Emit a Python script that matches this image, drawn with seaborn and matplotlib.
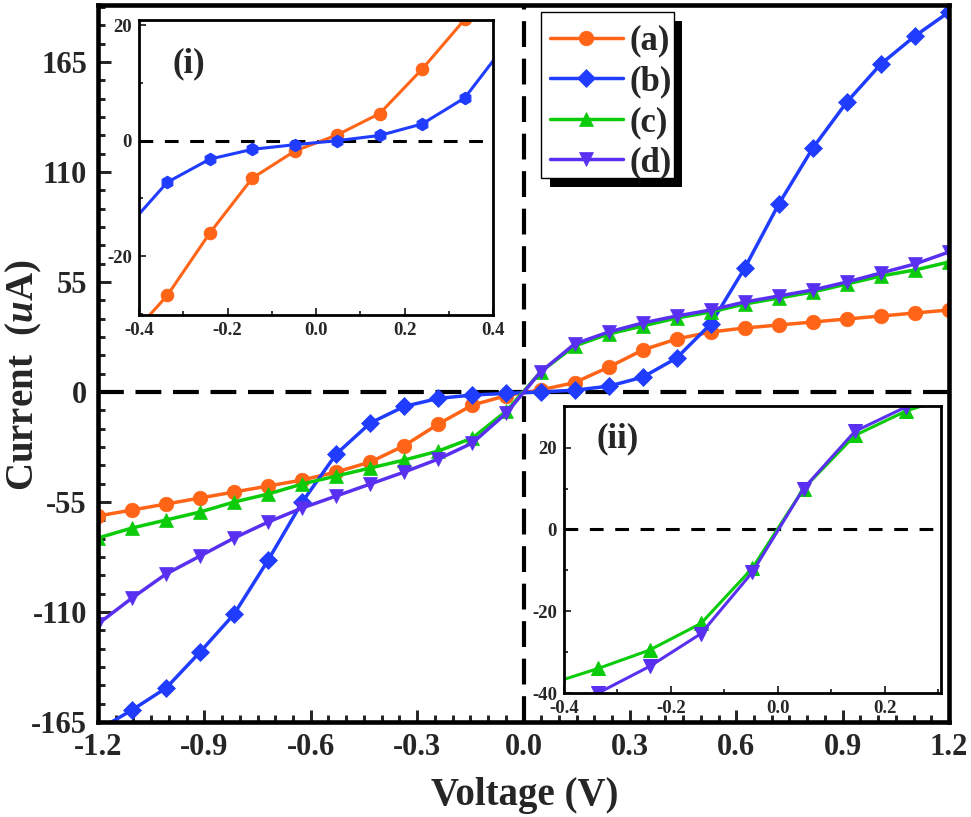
import matplotlib
matplotlib.use("Agg")
import matplotlib.pyplot as plt
from matplotlib.patches import Rectangle
from matplotlib.ticker import MultipleLocator
import pandas as pd
import seaborn as sns

sns.set_style("ticks")
plt.rcParams['font.family'] = ['Liberation Serif', 'DejaVu Serif']
plt.rcParams['font.weight'] = 'bold'
plt.rcParams['axes.unicode_minus'] = False
plt.rcParams['mathtext.fontset'] = 'custom'
plt.rcParams['mathtext.bfit'] = 'Liberation Serif:italic:bold'
plt.rcParams['mathtext.rm'] = 'Liberation Serif:bold'

voltage = [-1.2, -1.104, -1.008, -0.912, -0.816, -0.72, -0.624, -0.528, -0.432, -0.336, -0.24, -0.144, -0.048,
           0.048, 0.144, 0.24, 0.336, 0.432, 0.528, 0.624, 0.72, 0.816, 0.912, 1.008, 1.104, 1.2]
series_a = [-62, -59, -56, -53, -50, -47, -44, -40, -35, -26.8, -16, -6.5, -1.8,
            1, 4.7, 12.4, 21, 26.5, 30, 32, 33.5, 35, 36.5, 38, 39.5, 41]
series_b = [-169, -159, -148, -130, -111, -84, -55, -31, -15.5, -7.2, -3.2, -1.5, -0.7,
            0, 0.9, 2.9, 7.4, 17, 34, 62, 94, 122, 145, 164, 178, 190]
series_c = [-73, -68, -64, -60, -55, -51, -46, -42, -38, -34, -29.5, -23, -9.5,
            10, 23, 29, 33, 37, 40, 44, 47, 50, 54, 58, 61, 65]
series_d = [-116, -103, -91, -82, -73, -65, -58, -52, -46, -40, -33.5, -25.5, -10.5,
            10, 24, 30, 34.5, 38, 41, 45, 48, 51, 55, 59.5, 64, 70]
labels = ['(a)', '(b)', '(c)', '(d)']
colors = ['#FF6417', '#1F3CFF', '#0BCB0B', '#5A30F0']

df = pd.DataFrame({'V': voltage, '(a)': series_a, '(b)': series_b, '(c)': series_c, '(d)': series_d})
W, H = 971, 817
fig = plt.figure(figsize=(W / 100, H / 100), dpi=100)


def axes_px(l, t, r, b):
    return fig.add_axes([l / W, 1 - b / H, (r - l) / W, (b - t) / H])


def style(ax, lw, major, minor, fs, pad):
    for s in ax.spines.values():
        s.set_linewidth(lw)
        s.set_color('k')
    ax.tick_params(which='major', direction='in', length=major, width=lw * 0.65, labelsize=fs, pad=pad)
    ax.tick_params(which='minor', direction='in', length=minor, width=lw * 0.65)


def box_px(ax, l, t, r, b, z, **kw):
    ax.add_patch(Rectangle((l / W, 1 - b / H), (r - l) / W, (b - t) / H, transform=fig.transFigure,
                           clip_on=False, zorder=z, **kw))


ax = axes_px(98, 5, 949, 722)
mains = [('(a)', 'o', 10.5), ('(b)', 'D', 9.5), ('(c)', '^', 10.5), ('(d)', 'v', 10.5)]
for (name, m, ms), c in zip(mains, colors):
    sns.lineplot(data=df, x='V', y=name, ax=ax, color=c, marker=m, markersize=ms, linewidth=2.5,
                 markeredgecolor=c, markeredgewidth=0.5, label=name, errorbar=None, estimator=None, sort=False)
ax.axhline(0, color='k', lw=3, ls=(0, (6.2, 2.8)), zorder=1)
ax.axvline(0, color='k', lw=3, ls=(0, (6.2, 2.8)), zorder=1)
ax.set_xlim(-1.2, 1.2)
ax.set_ylim(-165, 193.5)
ax.set_xticks([-1.2, -0.9, -0.6, -0.3, 0, 0.3, 0.6, 0.9, 1.2])
ax.set_xticklabels(['-1.2', '-0.9', '-0.6', '-0.3', '0.0', '0.3', '0.6', '0.9', '1.2'])
ax.set_yticks([-165, -110, -55, 0, 55, 110, 165])
ax.xaxis.set_minor_locator(MultipleLocator(0.05))
ax.yaxis.set_minor_locator(MultipleLocator(55 / 6))
style(ax, 3.3, 9, 5, 22, 8)
ax.set_xlabel('Voltage (V)', fontsize=28, fontweight='bold')
ax.set_ylabel(r'Current  ($\mathbfit{u}$A)', fontsize=28, fontweight='bold')
ax.xaxis.set_label_coords(0.502, (722 - 777) / 717)
ax.yaxis.set_label_coords((44 - 98) / 851, 0.483)

box_px(ax, 550, 21, 682, 187, 5, facecolor='k', edgecolor='k', linewidth=0)
box_px(ax, 541, 12, 674, 178, 5.5, facecolor='w', edgecolor='k', linewidth=1.0)
leg = ax.legend(loc='upper left', bbox_to_anchor=((541 - 98) / 851, 1 - (16 - 5) / 717), fontsize=25,
                frameon=False, handlelength=2.1, handletextpad=0.2, labelspacing=0.22,
                borderpad=0.25, borderaxespad=0)
leg.set_zorder(6)

ins1 = axes_px(139, 20, 493, 315)
for name, m, c in [('(a)', 'o', colors[0]), ('(b)', 'h', colors[1])]:
    sns.lineplot(data=df, x='V', y=name, ax=ins1, color=c, marker=m, markersize=9, linewidth=2.2,
                 markeredgecolor=c, errorbar=None, estimator=None, sort=False)
ins1.axhline(0, color='k', lw=2.2, ls=(0, (4.5, 3.8)), zorder=1)
ins1.set_xlim(-0.4, 0.4)
ins1.set_ylim(-30.2, 20.9)
ins1.set_xticks([-0.4, -0.2, 0, 0.2, 0.4])
ins1.set_xticklabels(['-0.4', '-0.2', '0.0', '0.2', '0.4'])
ins1.set_yticks([-20, 0, 20])
ins1.xaxis.set_minor_locator(MultipleLocator(0.1))
ins1.yaxis.set_minor_locator(MultipleLocator(10))
style(ins1, 2.0, 5, 3, 13.5, 5)
ins1.set_xlabel('')
ins1.set_ylabel('')
ins1.text(0.095, 0.85, '(i)', transform=ins1.transAxes, fontsize=25, fontweight='bold', va='center')

ins2 = axes_px(564, 406, 941, 693)
for name, m, c in [('(c)', '^', colors[2]), ('(d)', 'v', colors[3])]:
    sns.lineplot(data=df, x='V', y=name, ax=ins2, color=c, marker=m, markersize=10.5, linewidth=2.2,
                 markeredgecolor=c, errorbar=None, estimator=None, sort=False)
ins2.axhline(0, color='k', lw=2.2, ls=(0, (4.5, 3.8)), zorder=1)
ins2.set_xlim(-0.4, 0.305)
ins2.set_ylim(-40, 30.2)
ins2.set_xticks([-0.4, -0.2, 0, 0.2])
ins2.set_xticklabels(['-0.4', '-0.2', '0.0', '0.2'])
ins2.set_yticks([-40, -20, 0, 20])
ins2.xaxis.set_minor_locator(MultipleLocator(0.1))
ins2.yaxis.set_minor_locator(MultipleLocator(10))
style(ins2, 2.0, 5, 3, 13.5, 5)
ins2.set_xlabel('')
ins2.set_ylabel('')
ins2.text(0.085, 0.885, '(ii)', transform=ins2.transAxes, fontsize=25, fontweight='bold', va='center')

fig.savefig('out.png', dpi=100)
